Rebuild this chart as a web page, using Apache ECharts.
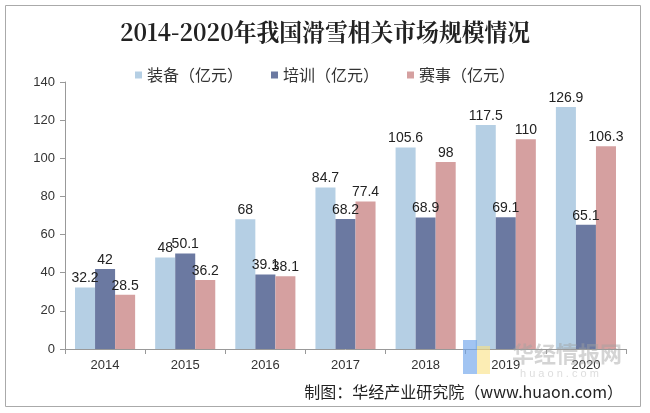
<!DOCTYPE html>
<html><head><meta charset="utf-8">
<script src="https://cdn.jsdelivr.net/npm/echarts@6/dist/echarts.min.js"></script>
<style>html,body{margin:0;padding:0;background:#fff}#c{width:650px;height:413px}</style>
</head><body><div id="c"></div>
<script>
var categories = ['2014','2015','2016','2017','2018','2019','2020'];
var equipment = [32.2, 48, 68, 84.7, 105.6, 117.5, 126.9];
var training = [42, 50.1, 39.1, 68.2, 68.9, 69.1, 65.1];
var events = [28.5, 36.2, 38.1, 77.4, 98, 110, 106.3];
var seriesNames = ['装备（亿元）','培训（亿元）','赛事（亿元）'];
var yTicks = [0,20,40,60,80,100,120,140];

var chart = echarts.init(document.getElementById('c'));
var lbl = {show:true, position:'top', distance:2, color:'#222', fontSize:14, fontFamily:'Liberation Sans, Arial'};
chart.setOption({
  animation:false,
  backgroundColor:'#fff',
  legend:{top:62, left:'center', itemWidth:7, itemHeight:7, itemGap:28,
    textStyle:{fontSize:16, color:'#333', fontFamily:'Noto Sans CJK SC'},
    data:seriesNames.map(function(n){return {name:n, icon:'rect'};})},
  grid:{left:65, right:24, top:82, bottom:64, containLabel:false},
  xAxis:{type:'category', data:categories,
    axisLine:{lineStyle:{color:'#999'}},
    axisTick:{show:true, alignWithLabel:false, length:5, lineStyle:{color:'#999'}},
    axisLabel:{color:'#333', fontSize:13, margin:10, fontFamily:'Liberation Sans, Arial'}},
  yAxis:{type:'value', min:yTicks[0], max:yTicks[yTicks.length-1], interval:20,
    axisLine:{show:true, lineStyle:{color:'#999'}},
    axisTick:{show:true, length:5, lineStyle:{color:'#999'}},
    splitLine:{show:false},
    axisLabel:{color:'#333', fontSize:13, margin:10, fontFamily:'Liberation Sans, Arial'}},
  series:[
    {name:seriesNames[0], type:'bar', data:equipment, barGap:'0%', barCategoryGap:'25%', itemStyle:{color:'#b5cfe4'}, label:lbl},
    {name:seriesNames[1], type:'bar', data:training, barGap:'0%', barCategoryGap:'25%', itemStyle:{color:'#6b79a1'}, label:lbl},
    {name:seriesNames[2], type:'bar', data:events, barGap:'0%', barCategoryGap:'25%', itemStyle:{color:'#d5a0a0'}, label:lbl}
  ],
  graphic:[
    {type:'rect', shape:{x:5.5, y:5.5, width:635, height:401}, style:{fill:'none', stroke:'#aaa', lineWidth:1}, silent:true, z:-1},
    {type:'text', x:325, y:32, scaleX:0.95, style:{text:'2014-2020年我国滑雪相关市场规模情况', fontSize:24, fontWeight:'bold', fill:'#222', align:'center', verticalAlign:'middle', fontFamily:'Noto Serif CJK SC, Noto Sans CJK SC, serif'}, z:10},
    {type:'rect', shape:{x:463, y:340, width:14, height:34}, style:{fill:'rgba(110,165,235,0.65)'}, silent:true, z:10},
    {type:'rect', shape:{x:477, y:346, width:13, height:28}, style:{fill:'rgba(250,225,130,0.6)'}, silent:true, z:10},
    {type:'text', left:512, top:343, style:{text:'华经情报网', fontSize:22, fontWeight:'bold', fill:'rgba(160,160,160,0.45)', fontFamily:'Noto Sans CJK SC'}, z:10},
    {type:'text', left:520, top:368, style:{text:'h u a o n . c o m', fontSize:11, fill:'rgba(170,170,170,0.4)', fontFamily:'Liberation Sans'}, z:10},
    {type:'text', right:27, top:384, style:{text:'制图：华经产业研究院（www.huaon.com）', fontSize:16, fill:'#222', fontFamily:'Noto Sans CJK SC'}, z:11}
  ]
});
</script></body></html>
